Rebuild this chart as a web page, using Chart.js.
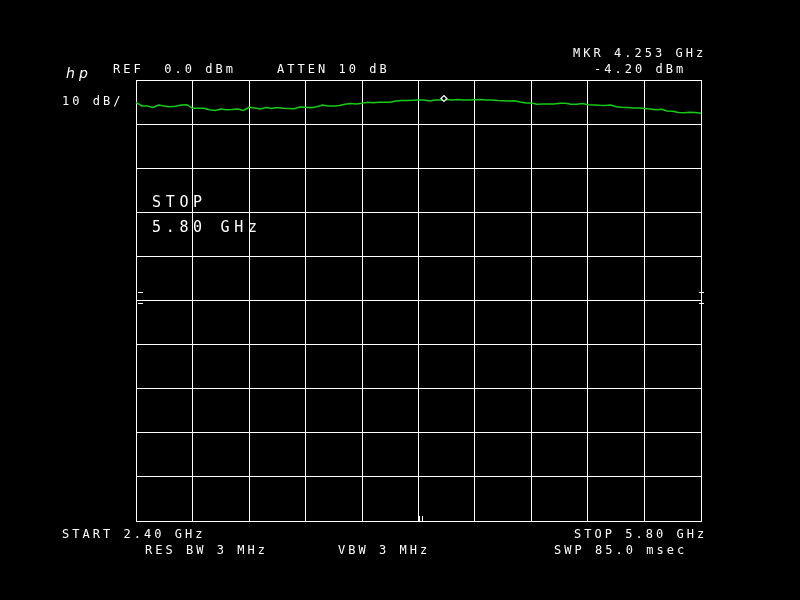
<!DOCTYPE html>
<html>
<head>
<meta charset="utf-8">
<script src="https://cdn.jsdelivr.net/npm/chart.js@4/dist/chart.umd.min.js"></script>
<style>
  html, body { margin: 0; padding: 0; background: #000; }
  canvas { display: block; }
</style>
</head>
<body>
<canvas id="sa" width="800" height="600"></canvas>
<script>
// sweep settings
const startGHz = 2.40;
const stopGHz = 5.80;
const refDbm = 0;
const dbPerDiv = 10;

// trace level in dBm, 101 samples evenly spread from start to stop
const traceDbm = [
  -5.06, -5.90, -5.90, -6.24, -5.67, -5.90, -6.05, -5.96, -5.67, -5.60,
  -6.42, -6.42, -6.42, -6.73, -6.92, -6.58, -6.73, -6.69, -6.58, -6.92,
  -6.19, -6.35, -6.58, -6.24, -6.46, -6.24, -6.39, -6.46, -6.51, -6.12,
  -6.19, -6.30, -6.05, -5.67, -5.90, -5.90, -5.78, -5.49, -5.33, -5.44,
  -5.28, -5.06, -5.15, -5.06, -5.06, -5.06, -4.76, -4.65, -4.65, -4.58,
  -4.54, -4.54, -4.76, -4.54, -4.54, -4.42, -4.54, -4.42, -4.54, -4.54,
  -4.49, -4.42, -4.54, -4.54, -4.65, -4.69, -4.76, -4.69, -5.00, -5.22,
  -5.22, -5.51, -5.44, -5.44, -5.44, -5.28, -5.28, -5.51, -5.51, -5.33,
  -5.62, -5.67, -5.74, -5.78, -5.67, -6.08, -6.19, -6.24, -6.35, -6.35,
  -6.46, -6.58, -6.76, -6.64, -7.03, -7.10, -7.37, -7.41, -7.32, -7.37,
  -7.55
];

// marker
const markerGHz = [4.253];
const markerDbm = [-4.20];

// annotation texts
const smallTexts = [
  ['REF  0.0 dBm', 113, 73],
  ['ATTEN 10 dB', 277, 73],
  ['10 dB/', 62, 105],
  ['MKR 4.253 GHz', 573, 57],
  ['-4.20 dBm', 594, 73],
  ['START 2.40 GHz', 62, 538],
  ['STOP 5.80 GHz', 574, 538],
  ['RES BW 3 MHz', 145, 554],
  ['VBW 3 MHz', 338, 554],
  ['SWP 85.0 msec', 554, 554]
];
const bigTexts = [
  ['STOP', 152, 207],
  ['5.80 GHz', 152, 232]
];

let _aTrace = [];
let _fStep = (stopGHz - startGHz) / (traceDbm.length - 1);
traceDbm.forEach((dVal, i) => {
  _aTrace.push({ x: startGHz + i * _fStep, y: dVal });
});
let _aMarker = markerGHz.map((f, i) => ({ x: f, y: markerDbm[i] }));

function drawMono(ctx, sText, x, y, sFont, fPitch) {
  ctx.font = sFont;
  for (let i = 0; i < sText.length; i++) {
    ctx.fillText(sText[i], x + i * fPitch, y);
  }
}

const annotations = {
  id: 'annotations',
  afterDraw(chart) {
    const ctx = chart.ctx;
    ctx.save();
    ctx.fillStyle = '#ffffff';
    ctx.textBaseline = 'alphabetic';
    ctx.textAlign = 'left';
    smallTexts.forEach((t) => drawMono(ctx, t[0], t[1], t[2], '12px "DejaVu Sans Mono"', 10.25));
    bigTexts.forEach((t) => drawMono(ctx, t[0], t[1], t[2], '15px "DejaVu Sans Mono"', 13.7));
    // hp logo
    drawMono(ctx, 'hp', 66, 78, 'italic 14px "DejaVu Sans"', 13);

    // small level ticks on both sides of the centre line
    ctx.strokeStyle = '#ffffff';
    ctx.lineWidth = 1;
    ctx.beginPath();
    [292.5, 303.5].forEach((yy) => {
      ctx.moveTo(138, yy); ctx.lineTo(143, yy);
      ctx.moveTo(699, yy); ctx.lineTo(704, yy);
    });
    // little bracket on the bottom edge
    ctx.moveTo(419.5, 516); ctx.lineTo(419.5, 521);
    ctx.moveTo(422.5, 516); ctx.lineTo(422.5, 521);
    ctx.stroke();
    ctx.restore();
  }
};

new Chart(document.getElementById('sa'), {
  type: 'line',
  data: {
    datasets: [
      {
        data: _aTrace,
        borderColor: '#14cc14',
        borderWidth: 1.6,
        pointRadius: 0,
        tension: 0,
        order: 2
      },
      {
        type: 'scatter',
        data: _aMarker,
        pointStyle: 'rectRot',
        pointRadius: 3,
        borderColor: '#ffffff',
        backgroundColor: '#000000',
        borderWidth: 1.2,
        order: 1
      }
    ]
  },
  options: {
    responsive: false,
    animation: false,
    events: [],
    layout: { padding: { left: 136, top: 80, right: 99, bottom: 79 } },
    plugins: { legend: { display: false }, tooltip: { enabled: false } },
    scales: {
      x: {
        type: 'linear',
        min: startGHz,
        max: stopGHz,
        ticks: { display: false, count: 11 },
        grid: { color: '#ffffff', lineWidth: 1, drawTicks: false },
        border: { color: '#ffffff', width: 1 }
      },
      y: {
        type: 'linear',
        min: refDbm - 10 * dbPerDiv,
        max: refDbm,
        ticks: { display: false, count: 11 },
        grid: { color: '#ffffff', lineWidth: 1, drawTicks: false },
        border: { color: '#ffffff', width: 1 }
      }
    }
  },
  plugins: [annotations]
});
</script>
</body>
</html>
